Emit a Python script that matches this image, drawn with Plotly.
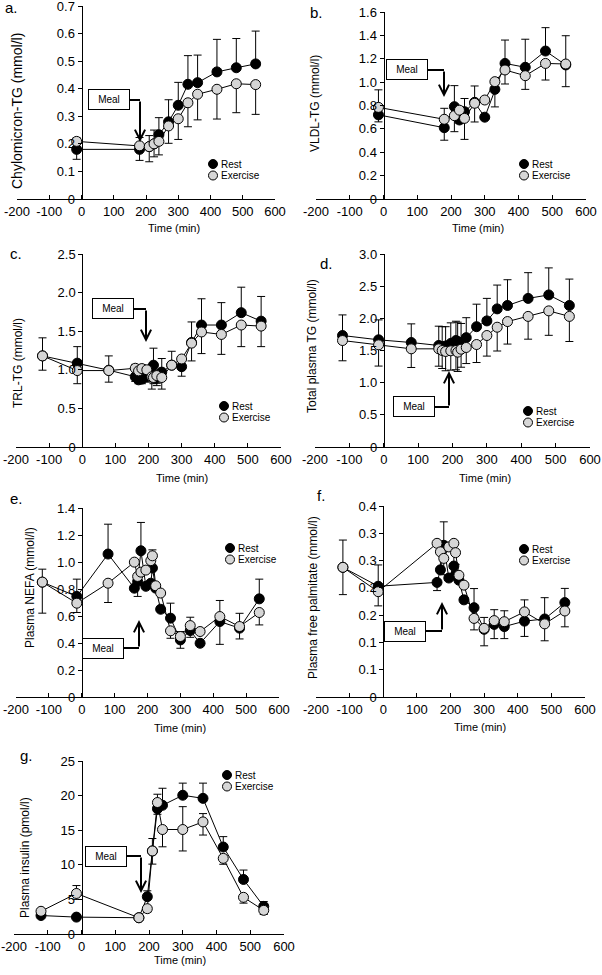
import plotly.graph_objects as go

W, H = 602, 975
FONT = 'Liberation Sans, Arial, sans-serif'

# shared x axis
x_tickvals = [-200, -100, 0, 100, 200, 300, 400, 500, 600]
x_ticktext = ['-200', '-100', '0', '100', '200', '300', '400', '500', '600']

# a. chylomicron-TG
time_a = [-15, 180, 210, 225, 240, 270, 300, 330, 360, 420, 480, 540]
rest_a = [0.18, 0.18, 0.19, 0.20, 0.233, 0.28, 0.34, 0.416, 0.422, 0.461, 0.476, 0.49]
rest_a_up = [0, 0, 0.04, 0.05, 0.062, 0.08, 0.083, 0.104, 0.10, 0.118, 0.106, 0.119]
rest_a_dn = [0.036, 0.04, 0, 0, 0, 0, 0, 0, 0, 0, 0, 0]
ex_a = [0.209, 0.193, 0.19, 0.20, 0.209, 0.265, 0.291, 0.349, 0.38, 0.398, 0.418, 0.415]
ex_a_up = [0.013, 0.03, 0, 0, 0, 0, 0, 0, 0, 0, 0, 0]
ex_a_dn = [0, 0, 0.055, 0.047, 0.049, 0.063, 0.075, 0.087, 0.093, 0.108, 0.105, 0.108]
yticks_a = [0, 0.1, 0.2, 0.3, 0.4, 0.5, 0.6, 0.7]
ytext_a = ['0', '0.1', '0.2', '0.3', '0.4', '0.5', '0.6', '0.7']

# b. VLDL-TG
time_b = [-15, 180, 210, 225, 240, 270, 300, 330, 360, 420, 480, 540]
rest_b = [0.72, 0.61, 0.79, 0.676, 0.747, 0.827, 0.70, 0.938, 1.16, 1.127, 1.266, 1.147]
rest_b_up = [0, 0, 0.18, 0, 0.113, 0.14, 0, 0, 0.20, 0.24, 0.20, 0.25]
rest_b_dn = [0.06, 0.107, 0, 0.03, 0, 0, 0, 0.15, 0, 0, 0, 0]
ex_b = [0.784, 0.682, 0.713, 0.76, 0.69, 0.819, 0.847, 1.004, 1.104, 1.055, 1.16, 1.155]
ex_b_up = [0.15, 0.094, 0, 0.03, 0, 0, 0, 0, 0, 0, 0, 0]
ex_b_dn = [0, 0, 0.137, 0, 0.18, 0.16, 0, 0, 0.12, 0.117, 0.142, 0.194]
yticks_b = [0, 0.2, 0.4, 0.6, 0.8, 1.0, 1.2, 1.4, 1.6]
ytext_b = ['0', '0.2', '0.4', '0.6', '0.8', '1.0', '1.2', '1.4', '1.6']

# c. TRL-TG
time_c = [-120, -15, 80, 160, 170, 180, 195, 210, 215, 225, 240, 270, 300, 330, 360, 420, 480, 540]
rest_c = [1.18, 1.086, 0.995, 0.91, 0.87, 0.88, 0.91, 0.97, 1.06, 0.895, 0.97, 1.06, 1.04, 1.354, 1.58, 1.58, 1.74, 1.63]
rest_c_up = [0.234, 0.214, 0.185, 0, 0, 0, 0, 0.10, 0.22, 0, 0.176, 0.18, 0, 0.266, 0.34, 0.29, 0.33, 0.32]
rest_c_dn = [0, 0, 0.155, 0.06, 0.05, 0.06, 0.07, 0, 0, 0.10, 0, 0, 0.123, 0, 0, 0, 0, 0]
ex_c = [1.18, 0.99, 0.99, 1.02, 0.986, 1.016, 1.0, 0.91, 0.90, 0.925, 0.90, 1.06, 1.14, 1.345, 1.49, 1.458, 1.58, 1.566]
ex_c_up = [0, 0, 0, 0.05, 0.04, 0.05, 0.04, 0, 0, 0, 0, 0, 0, 0, 0, 0, 0, 0]
ex_c_dn = [0.185, 0.17, 0, 0, 0, 0, 0, 0.16, 0.08, 0.10, 0.15, 0, 0, 0.23, 0.28, 0.258, 0.28, 0.266]
yticks_c = [0, 0.5, 1.0, 1.5, 2.0, 2.5]
ytext_c = ['0', '0.5', '1.0', '1.5', '2.0', '2.5']

# d. total plasma TG
time_d = [-120, -15, 80, 160, 170, 180, 195, 210, 215, 225, 240, 270, 300, 330, 360, 420, 480, 540]
rest_d = [1.733, 1.666, 1.624, 1.578, 1.56, 1.57, 1.61, 1.655, 1.64, 1.62, 1.70, 1.87, 1.96, 2.147, 2.20, 2.31, 2.364, 2.20]
rest_d_up = [0.32, 0.31, 0.29, 0.30, 0.31, 0.30, 0.32, 0.30, 0.30, 0.30, 0.31, 0.35, 0.35, 0.37, 0.40, 0.40, 0.42, 0.41]
rest_d_dn = [0] * 18
ex_d = [1.655, 1.588, 1.526, 1.526, 1.50, 1.485, 1.495, 1.50, 1.474, 1.52, 1.547, 1.593, 1.733, 1.862, 1.95, 2.03, 2.116, 2.03]
ex_d_up = [0] * 18
ex_d_dn = [0.315, 0.33, 0.29, 0.27, 0.28, 0.30, 0.30, 0.30, 0.30, 0.28, 0.25, 0.28, 0.32, 0.37, 0.35, 0.354, 0.38, 0.39]
yticks_d = [0, 0.5, 1.0, 1.5, 2.0, 2.5, 3.0]
ytext_d = ['0', '0.5', '1.0', '1.5', '2.0', '2.5', '3.0']

# e. plasma NEFA
time_e = [-120, -15, 80, 160, 170, 180, 195, 210, 215, 225, 240, 270, 300, 330, 360, 420, 480, 540]
rest_e = [0.851, 0.745, 1.059, 0.806, 0.855, 1.083, 0.82, 0.843, 0.955, 0.806, 0.65, 0.584, 0.423, 0.492, 0.398, 0.559, 0.51, 0.727]
rest_e_up = [0.096, 0.128, 0.221, 0, 0, 0.21, 0, 0, 0, 0, 0, 0.111, 0, 0, 0, 0, 0, 0.146]
rest_e_dn = [0, 0, 0, 0, 0.11, 0, 0, 0, 0, 0, 0, 0, 0.062, 0.05, 0, 0.169, 0.08, 0]
ex_e = [0.851, 0.695, 0.843, 0.999, 0.893, 0.925, 0.94, 1.01, 1.046, 0.824, 0.77, 0.49, 0.448, 0.529, 0.485, 0.596, 0.522, 0.626]
ex_e_up = [0, 0, 0, 0, 0, 0, 0, 0, 0.044, 0, 0, 0, 0.037, 0.062, 0, 0.119, 0.098, 0]
ex_e_dn = [0.23, 0.069, 0.143, 0, 0, 0, 0, 0, 0, 0, 0, 0.055, 0, 0, 0, 0, 0, 0.092]
yticks_e = [0, 0.2, 0.4, 0.6, 0.8, 1.0, 1.2, 1.4]
ytext_e = ['0', '0.2', '0.4', '0.6', '0.8', '1.0', '1.2', '1.4']

# f. plasma free palmitate
time_f = [-120, -15, 160, 170, 180, 195, 210, 215, 225, 240, 270, 300, 330, 360, 420, 480, 540]
rest_f = [0.2376, 0.203, 0.21, 0.233, 0.278, 0.218, 0.24, 0.223, 0.214, 0.178, 0.1637, 0.124, 0.133, 0.129, 0.139, 0.143, 0.173]
rest_f_up = [0.05, 0.039, 0, 0, 0.043, 0, 0.03, 0.02, 0, 0, 0.035, 0, 0, 0, 0, 0.039, 0.026]
rest_f_dn = [0, 0, 0.015, 0, 0, 0, 0, 0, 0, 0, 0, 0, 0.026, 0.022, 0.028, 0, 0]
ex_f = [0.2376, 0.193, 0.2816, 0.266, 0.254, 0.275, 0.2816, 0.2645, 0.223, 0.205, 0.144, 0.1258, 0.14, 0.138, 0.156, 0.134, 0.1576]
ex_f_up = [0, 0, 0, 0, 0, 0, 0, 0, 0, 0, 0, 0.02, 0.02, 0.02, 0.022, 0, 0]
ex_f_dn = [0.05, 0.026, 0, 0.03, 0.03, 0, 0, 0, 0, 0, 0.021, 0.032, 0, 0, 0, 0.031, 0.029]
yticks_f = [0, 0.05, 0.1, 0.15, 0.2, 0.25, 0.3, 0.35]
ytext_f = ['0', '0.1', '0.1', '0.2', '0.2', '0.3', '0.3', '0.4']

# g. plasma insulin
time_g = [-120, -15, 170, 195, 210, 225, 240, 300, 360, 420, 480, 540]
rest_g = [2.67, 2.44, 2.35, 5.39, 12.0, 18.1, 18.6, 20.05, 19.6, 12.57, 7.88, 3.99]
rest_g_up = [0, 0, 0, 0.85, 1.8, 0, 2.46, 1.75, 2.2, 1.5, 1.36, 0.7]
rest_g_dn = [0.3, 0, 0, 0, 0, 0.8, 0, 0, 0, 0, 0, 0]
ex_g = [3.28, 5.86, 2.35, 3.66, 12.0, 19.0, 15.1, 15.1, 16.2, 10.93, 5.3, 3.42]
ex_g_up = [0.3, 1.14, 0, 0, 0, 1.2, 0, 3.3, 1.2, 0, 0, 0]
ex_g_dn = [0, 0.86, 0, 0.5, 1.9, 0, 2.5, 3.1, 1.9, 0.85, 0.84, 0.6]
yticks_g = [0, 5, 10, 15, 20, 25]
ytext_g = ['0', '5', '10', '15', '20', '25']

y_titles = ['Chylomicron-TG (mmol/l)', 'VLDL-TG (mmol/l)', 'TRL-TG (mmol/l)',
            'Total plasma TG (mmol/l)', 'Plasma NEFA (mmol/l)',
            'Plasma free palmitate (mmol/l)', 'Plasma insulin (pmol/l)']
y_title_size = [14, 12, 12, 12, 12, 12, 12]
letters = ['a.', 'b.', 'c.', 'd.', 'e.', 'f.', 'g.']

data = [
    (time_a, rest_a, rest_a_up, rest_a_dn, ex_a, ex_a_up, ex_a_dn, yticks_a, ytext_a),
    (time_b, rest_b, rest_b_up, rest_b_dn, ex_b, ex_b_up, ex_b_dn, yticks_b, ytext_b),
    (time_c, rest_c, rest_c_up, rest_c_dn, ex_c, ex_c_up, ex_c_dn, yticks_c, ytext_c),
    (time_d, rest_d, rest_d_up, rest_d_dn, ex_d, ex_d_up, ex_d_dn, yticks_d, ytext_d),
    (time_e, rest_e, rest_e_up, rest_e_dn, ex_e, ex_e_up, ex_e_dn, yticks_e, ytext_e),
    (time_f, rest_f, rest_f_up, rest_f_dn, ex_f, ex_f_up, ex_f_dn, yticks_f, ytext_f),
    (time_g, rest_g, rest_g_up, rest_g_dn, ex_g, ex_g_up, ex_g_dn, yticks_g, ytext_g),
]

# layout, in page pixels
# plot area: left, right, top, bottom
boxes = [(17, 275, 6, 199), (316, 586, 12, 199),
         (16, 281, 254, 447), (315, 590, 254, 447),
         (16, 279, 508, 697), (316, 585, 506, 697),
         (14, 284, 761, 934)]
letter_pos = [(11, 8), (317, 12), (16, 254), (326, 263), (16, 498), (321, 495), (26, 755)]
ytitle_pos = [(17, 111), (315, 104), (18, 363), (312, 346), (30, 588), (313, 598), (25, 858)]
xtitle_pos = [(174, 228), (478, 228), (182, 478), (485, 478), (180, 728), (480, 727), (180, 960)]
legend_pos = [(213, 164), (524, 164), (224, 406), (528, 411), (230, 548), (524, 549), (227, 775)]
# meal box centre x, y; arrow corner x; arrow tip y
meal_pos = [(109, 100, 140, 142), (407, 70, 444, 97), (113, 309, 146, 342),
            (414, 407, 449, 371), (103, 648, 139, 620), (405, 631, 442, 602),
            (106, 856, 141, 893)]

def fx(x):
    return x / W

def fy(y):
    return 1 - y / H

fig = go.Figure()
shapes = []
annotations = []
grey = '#d6d6d6'

def label(text, x, y, size, **kw):
    d = dict(text=text, x=fx(x), y=fy(y), xref='paper', yref='paper', showarrow=False,
             xanchor='center', yanchor='middle', font=dict(size=size))
    d.update(kw)
    return d

axis_style = dict(tickcolor='black', ticklen=4, showline=True, linecolor='black', linewidth=1,
                  showgrid=False, zeroline=False, automargin=False, ticklabeloverflow='allow',
                  tickfont=dict(size=13, color='black'))

for i, (t, r, r_up, r_dn, e, e_up, e_dn, yt, ytx) in enumerate(data):
    n = '' if i == 0 else str(i + 1)
    xa, ya = 'x' + n, 'y' + n
    x0, x1, top, bot = boxes[i]

    fig.add_trace(go.Scatter(x=t, y=r, mode='lines', line=dict(color='black', width=1),
                             xaxis=xa, yaxis=ya, showlegend=False, hoverinfo='skip'))
    fig.add_trace(go.Scatter(x=t, y=e, mode='lines', line=dict(color='black', width=1),
                             xaxis=xa, yaxis=ya, showlegend=False, hoverinfo='skip'))
    fig.add_trace(go.Scatter(x=t, y=r, mode='markers', name='Rest',
                             marker=dict(size=10, color='black', line=dict(color='black', width=1)),
                             error_y=dict(type='data', symmetric=False, array=r_up, arrayminus=r_dn,
                                          color='black', thickness=1, width=4),
                             xaxis=xa, yaxis=ya, showlegend=False))
    fig.add_trace(go.Scatter(x=t, y=e, mode='markers', name='Exercise',
                             marker=dict(size=10, color=grey, line=dict(color='black', width=1)),
                             error_y=dict(type='data', symmetric=False, array=e_up, arrayminus=e_dn,
                                          color='black', thickness=1, width=4),
                             xaxis=xa, yaxis=ya, showlegend=False))

    fig.update_layout(**{
        'xaxis' + n: dict(domain=[fx(x0), fx(x1)], anchor=ya, range=[-200, 600],
                          tickvals=x_tickvals, ticktext=x_ticktext, ticks='inside',
                          **axis_style),
        'yaxis' + n: dict(domain=[fy(bot), fy(top)], anchor='free',
                          position=fx(x0 + (x1 - x0) * 0.25), range=[0, yt[-1]],
                          tickvals=yt, ticktext=ytx, ticks='outside', **axis_style),
    })

    # texts
    annotations.append(label(letters[i], *letter_pos[i], 15))
    annotations.append(label(y_titles[i], *ytitle_pos[i], y_title_size[i], textangle=-90))
    annotations.append(label('Time (min)', *xtitle_pos[i], 11))

    # legend keys
    gx, gy = legend_pos[i]
    for k, (name, fill) in enumerate([('Rest', 'black'), ('Exercise', grey)]):
        cy = gy + k * 11.5
        shapes.append(dict(type='circle', xref='paper', yref='paper', xsizemode='pixel',
                           ysizemode='pixel', xanchor=fx(gx), yanchor=fy(cy),
                           x0=-4.5, x1=4.5, y0=-4.5, y1=4.5, fillcolor=fill,
                           line=dict(color='black', width=1)))
        annotations.append(label(name, gx + 6, cy, 10, xanchor='left'))

    # meal box and elbow arrow
    mx, my, cx, tip = meal_pos[i]
    annotations.append(label('Meal', mx, my, 10, bgcolor='white', bordercolor='black',
                             borderwidth=1, width=36, height=15, borderpad=2))
    shapes.append(dict(type='line', xref='paper', yref='paper', x0=fx(mx + 20), x1=fx(cx),
                       y0=fy(my), y1=fy(my), line=dict(color='black', width=2)))
    annotations.append(dict(text='', x=fx(cx), y=fy(tip), xref='paper', yref='paper',
                            showarrow=True, ax=0, ay=my - tip, arrowhead=5, arrowsize=1,
                            arrowwidth=2, arrowcolor='black', standoff=0))

fig.update_layout(width=W, height=H, margin=dict(l=0, r=0, t=0, b=0),
                  paper_bgcolor='white', plot_bgcolor='white',
                  font=dict(family=FONT, color='black'),
                  shapes=shapes, annotations=annotations, showlegend=False)

# the page body has a default 8px margin; drop it so the figure sits at 0,0
fig.write_html('out.html', config={'displayModeBar': False},
               post_script="document.body.style.margin = '0';")
